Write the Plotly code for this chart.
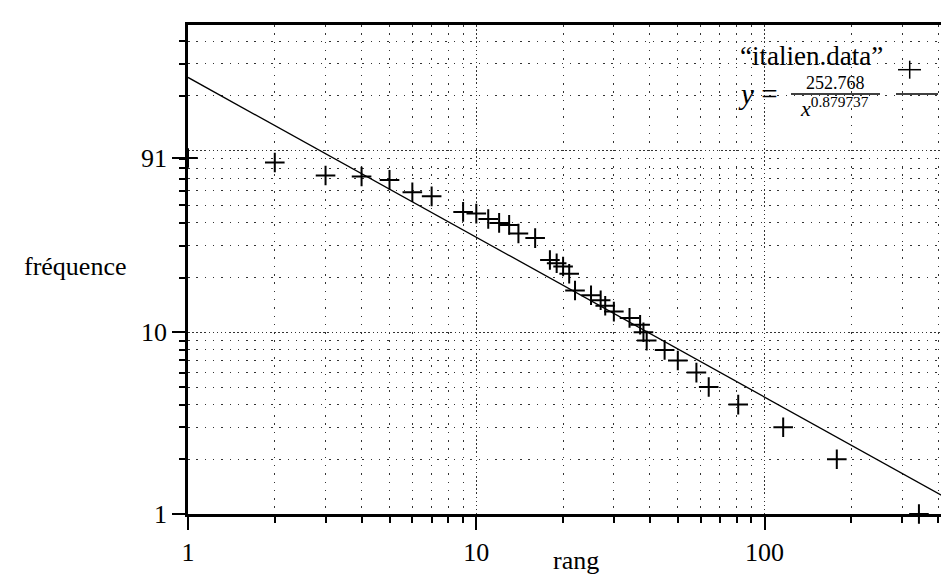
import plotly.graph_objects as go

# ---- data ----
rang = [1, 2, 3, 4, 5, 6, 7, 9, 10, 11, 12, 13, 14, 16, 18, 19, 20, 21, 22,
        25, 27, 28, 30, 34, 37, 38, 39, 45, 50, 58, 64, 81, 116, 178, 343]
frequence = [91, 86, 73, 72, 69, 59, 56, 46, 45, 42, 40, 39, 35, 33, 25, 24, 23, 21, 17,
             16, 15, 14, 13, 12, 11, 10, 9, 8, 7, 6, 5, 4, 3, 2, 1]

# fitted law shown in the legend: y = A / x^B
FIT_A = 252.768
FIT_B = 0.879737
fit_x = [1, 600]
fit_y = [FIT_A / xv ** FIT_B for xv in fit_x]

x_major = [1, 10, 100]
x_major_text = ["1", "10", "100"]
x_minor = [2, 3, 4, 5, 6, 7, 8, 9, 20, 30, 40, 50, 60, 70, 80, 90, 200, 300, 400]
y_major = [1, 10, 91]
y_major_text = ["1", "10", "91"]
y_minor = [2, 3, 4, 5, 6, 7, 8, 9, 20, 30, 40, 50, 60, 70, 80, 90, 200, 300, 400]
y_decades = [10, 100]

FONT = "Liberation Serif"
L, R, T, B = 180, 0, 17, 68
W, H = 949, 574
PW, PH = W - L - R, H - T - B


def px(xp):
    return (xp - L) / PW


def py(yp):
    return (T + PH - yp) / PH


fig = go.Figure()
fig.add_trace(go.Scatter(x=fit_x, y=fit_y, mode="lines",
                         line=dict(color="black", width=1.3),
                         showlegend=False, hoverinfo="skip"))
fig.add_trace(go.Scatter(x=rang, y=frequence, mode="markers",
                         marker=dict(symbol="cross-thin", size=14, color="black",
                                     line=dict(width=2, color="black")),
                         cliponaxis=False, showlegend=False))
# invisible point so the overlay axis (decade grid lines) is drawn
fig.add_trace(go.Scatter(x=[1], y=[1], yaxis="y2", mode="markers",
                         marker=dict(size=1, opacity=0), showlegend=False,
                         hoverinfo="skip"))

minor_dash = "1.5px,6.8px"
major_dash = "1.5px,2.6px"
grid_col = "#333333"

fig.update_layout(
    width=W, height=H,
    margin=dict(l=L, r=R, t=T, b=B),
    paper_bgcolor="white", plot_bgcolor="white",
    font=dict(family=FONT, size=26, color="black"),
    xaxis=dict(
        type="log", range=[0, PW / 288.3],
        tickmode="array", tickvals=x_major, ticktext=x_major_text,
        ticks="outside", ticklen=13, tickwidth=2, tickcolor="black",
        showline=True, linewidth=2.5, linecolor="black", mirror=True,
        showgrid=True, gridcolor=grid_col, gridwidth=1.2, griddash=major_dash,
        zeroline=False,
        minor=dict(tickmode="array", tickvals=x_minor, ticks="outside", ticklen=6,
                   tickwidth=1.5, tickcolor="black",
                   showgrid=True, gridcolor=grid_col, gridwidth=1.2, griddash=minor_dash),
        tickfont=dict(family=FONT, size=26),
    ),
    yaxis=dict(
        type="log", range=[0, PH / 181.7],
        tickmode="array", tickvals=y_major, ticktext=y_major_text,
        ticks="outside", ticklen=13, tickwidth=2, tickcolor="black",
        showline=True, linewidth=2.5, linecolor="black", mirror=False,
        showgrid=False, zeroline=False,
        minor=dict(tickmode="array", tickvals=y_minor, ticks="outside", ticklen=6,
                   tickwidth=1.5, tickcolor="black",
                   showgrid=True, gridcolor=grid_col, gridwidth=1.2, griddash=minor_dash),
        tickfont=dict(family=FONT, size=26),
    ),
    yaxis2=dict(
        type="log", range=[0, PH / 181.7], overlaying="y", side="left",
        tickmode="array", tickvals=y_decades, showticklabels=False, ticks="",
        showline=False, zeroline=False,
        showgrid=True, gridcolor=grid_col, gridwidth=1.2, griddash=major_dash,
    ),
)

ann = [
    dict(text="fréquence", x=px(67), y=py(258), size=26, xa="center"),
    dict(text="rang", x=px(568), y=py(552), size=26, xa="center"),
    dict(text="\u201citalien.data\u201d", x=px(876), y=py(48), size=27, xa="right"),
    dict(text="<i>y</i> =", x=px(770), y=py(86), size=29, xa="right"),
    dict(text="252.768", x=px(827.5), y=py(75), size=18, xa="center"),
    dict(text="<i>x</i><sup>0.879737</sup>", x=px(826), y=py(99), size=22, xa="center"),
]
for a in ann:
    fig.add_annotation(text=a["text"], x=a["x"], y=a["y"], xref="paper", yref="paper",
                       xanchor=a["xa"], yanchor="middle", showarrow=False,
                       borderpad=0,
                       font=dict(family=FONT, size=a["size"], color="black"))

line_style = dict(color="black", width=1.5)
# fraction bar
fig.add_shape(type="line", xref="paper", yref="paper",
              x0=px(783), x1=px(872), y0=py(86), y1=py(86), line=line_style)
# legend samples
fig.add_shape(type="line", xref="paper", yref="paper",
              x0=px(888), x1=px(930), y0=py(86), y1=py(86), line=line_style)
fig.add_shape(type="line", xref="paper", yref="paper",
              x0=px(890), x1=px(913), y0=py(61.7), y1=py(61.7), line=line_style)
fig.add_shape(type="line", xref="paper", yref="paper",
              x0=px(901.7), x1=px(901.7), y0=py(52.7), y1=py(70.7), line=line_style)

fig.write_html("out.html")
